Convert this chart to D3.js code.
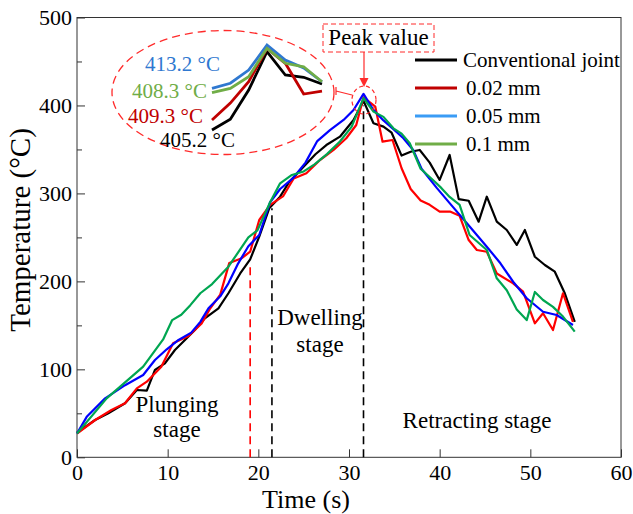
<!DOCTYPE html>
<html lang="en">
<head>
<meta charset="UTF-8">
<title>Temperature history</title>
<script src="https://d3js.org/d3.v7.min.js"></script>
<style>
  body { margin: 0; background: #fff; }
  svg text { font-family: "Liberation Serif", "Times New Roman", serif; fill: #000; }
</style>
</head>
<body>
<svg id="chart" width="633" height="514"></svg>
<script>
// ---- data ----
const convTime = [0, 2, 3.45, 5.3, 6.6, 7.7, 8.6, 9.7, 10.8, 12.1, 13, 14.1, 15.6, 16.7, 18, 19.1, 20.1, 21.2, 22.4, 23.4, 24.6, 26.3, 27.5, 29, 30.5, 31.6, 32.7, 33.8, 34.7, 35.8, 36.8, 37.8, 38.9, 40, 41.1, 42.1, 43.2, 44.3, 45.2, 46.3, 47.4, 48.5, 49.4, 50.5, 51.6, 52.7, 53.8, 54.9];
const convTemp = [28, 42.4, 50, 61.4, 76.5, 75.7, 99.3, 106.8, 122, 135.3, 144.7, 158, 169.4, 186.5, 209, 225, 250.8, 283, 296.3, 313, 326, 344.5, 355, 364.5, 383.5, 405.2, 379.7, 375.9, 369, 343, 347.4, 349.4, 335, 315.3, 343.7, 293.5, 291.7, 267.9, 296.3, 267.9, 258.4, 241.4, 258.4, 228, 218.6, 211, 186.5, 154];

const mm002Time = [0, 2, 3.8, 5.3, 6.6, 7.7, 9.3, 10.6, 12.3, 13.75, 14.7, 15.8, 16.8, 18.1, 19.1, 20.1, 21.3, 22.75, 23.9, 25.3, 26.8, 28.3, 29.7, 30.8, 31.6, 32.9, 33.7, 34.8, 35.8, 36.8, 37.9, 38.9, 40, 41.2, 42.2, 43.2, 44.1, 45.2, 46.3, 48.1, 49.2, 50.5, 51.4, 52.5, 53.6, 54.7];
const mm002Temp = [27, 42.4, 53.8, 61.4, 78.4, 86, 103, 129.6, 138, 152.3, 169.4, 185, 221, 226, 233.7, 269.8, 287, 297, 317, 323, 338, 349.4, 362.7, 377.8, 409.3, 398.6, 358.8, 360.7, 328.6, 305, 292, 287, 279.2, 279.2, 274.5, 247, 235.7, 233.7, 209, 197.8, 188.3, 152.3, 163.7, 144.7, 186.5, 154];

const mm005Time = [0, 1.07, 3.1, 5.3, 7.3, 8.6, 9.9, 11.2, 12.6, 13.6, 14.5, 15.8, 16.7, 17.7, 18.9, 20.1, 21.3, 22.4, 23.8, 25.2, 26.5, 27.9, 29.4, 30.5, 31.6, 32.7, 33.8, 34.9, 36, 37.1, 38, 39.7, 41.1, 43, 45.2, 46.7, 48.1, 49.6, 51.4, 52.9, 54.7];
const mm005Temp = [27, 46, 67, 82, 93.6, 110.6, 122.8, 133.4, 141.7, 154, 169.4, 183, 197.8, 219, 240, 252.7, 290, 305, 317, 335, 359.5, 372, 383.5, 394.8, 413.2, 394.8, 383, 373, 362.7, 349, 328, 306, 289, 266, 239.4, 220.6, 199.6, 180.8, 165.5, 161.8, 150.4];

const mm01Time = [0, 3.27, 7.3, 9.5, 10.5, 11.5, 12.5, 13.6, 14.9, 16.7, 18.9, 19.9, 21.3, 22.4, 23.7, 25, 26.2, 27.6, 29, 30.3, 31.6, 32.7, 33.8, 34.9, 35.8, 36.7, 37.9, 39.5, 40.2, 41.1, 42.2, 43.3, 45.2, 46.3, 47.4, 48.5, 49.6, 50.5, 51.4, 52.5, 53.6, 54.9];
const mm01Temp = [27, 67, 103, 134, 156, 162, 173, 186.5, 197, 216.7, 250, 258, 290, 311.5, 321, 325, 333, 345, 359, 376, 408.3, 393, 387, 374, 368, 357, 328, 313, 306, 296, 287, 252.7, 235.7, 203.5, 190, 168, 156, 188, 178.8, 171, 160, 142.8];

const seriesNames = ["Conventional joint", "0.02 mm", "0.05 mm", "0.1 mm"];
const lineColors = ["#000000", "#ff0000", "#0000ff", "#00a651"];
const keyColors = ["#000000", "#c00000", "#3a9cf5", "#70ad47"];
const insetColors = ["#000000", "#c00000", "#2f78d0", "#70ad47"];

// zoomed view around the peak (7 samples)
const insetConv = [356.5, 363.7, 383.2, 408.7, 393.2, 391.7, 387.2];
const insetMm002 = [363.2, 374.5, 388.7, 411, 401, 380.5, 382.5];
const insetMm005 = [384.3, 387.7, 396.5, 413.2, 403.2, 397.9, 388.7];
const insetMm01 = [381.4, 384.3, 392.1, 411, 401, 398.7, 388.7];
const peakLabels = ["405.2 °C", "409.3 °C", "413.2 °C", "408.3 °C"];

// stage boundaries: time and height of dashed marker
const stageTimes = [19.1, 21.5, 31.6];
const stageTops = [221, 283, 400];

const xTicks = [0, 10, 20, 30, 40, 50, 60];
const yTicks = [0, 100, 200, 300, 400, 500];
const yMinor = [50, 150, 250, 350, 450];

// ---- chart ----
const svg = d3.select("#chart");
const plotLeft = 77, plotRight = 621, plotTop = 17.5, plotBottom = 457.3;

const x = d3.scaleLinear().domain([0, 60]).range([plotLeft, plotRight]);
const y = d3.scaleLinear().domain([0, 500]).range([plotBottom, plotTop]);

// axes with inward ticks
svg.append("g")
    .attr("transform", `translate(0,${plotBottom})`)
    .call(d3.axisBottom(x).tickValues(xTicks).tickSize(-8).tickSizeOuter(0).tickPadding(7));
svg.append("g")
    .attr("transform", `translate(${plotLeft},0)`)
    .call(d3.axisLeft(y).tickValues(yTicks).tickSize(-8).tickSizeOuter(0).tickPadding(5));
svg.append("g")
    .attr("transform", `translate(${plotLeft},0)`)
    .call(d3.axisLeft(y).tickValues(yMinor).tickSize(-5).tickSizeOuter(0).tickFormat(""));

svg.selectAll(".domain").remove();
svg.selectAll(".tick line").attr("stroke", "#333");
svg.selectAll(".tick text")
    .style("font-family", '"Liberation Serif", "Times New Roman", serif')
    .style("font-size", "22px")
    .attr("fill", "#000");

svg.append("rect")
    .attr("x", plotLeft).attr("y", plotTop)
    .attr("width", plotRight - plotLeft).attr("height", plotBottom - plotTop)
    .attr("fill", "none").attr("stroke", "#333").attr("stroke-width", 1);

// axis titles
svg.append("text")
    .attr("x", 306).attr("y", 507.5)
    .attr("text-anchor", "middle")
    .style("font-size", "26px")
    .text("Time (s)");
svg.append("text")
    .attr("transform", "translate(30,230) rotate(-90)")
    .attr("text-anchor", "middle")
    .style("font-size", "29px")
    .text("Temperature (°C)");

// stage markers
svg.selectAll(".stage")
    .data(stageTimes)
    .enter()
    .append("line")
    .attr("class", "stage")
    .attr("x1", d => x(d)).attr("x2", d => x(d))
    .attr("y1", y(0)).attr("y2", (d, i) => y(stageTops[i]))
    .attr("stroke", (d, i) => i === 0 ? "#ff0000" : "#000")
    .attr("stroke-width", 1.6)
    .attr("stroke-dasharray", "8,5");

// curves
const allSeries = [
    [convTime, convTemp],
    [mm002Time, mm002Temp],
    [mm005Time, mm005Temp],
    [mm01Time, mm01Temp]
];
const line = d3.line().x(d => x(d[0])).y(d => y(d[1]));
allSeries.forEach(([ts, vs], i) => {
    svg.append("path")
        .datum(ts.map((t, k) => [t, vs[k]]))
        .attr("fill", "none")
        .attr("stroke", lineColors[i])
        .attr("stroke-width", 2.2)
        .attr("stroke-linejoin", "round")
        .attr("d", line);
});

// stage labels
const note = (txt, px, py, size) => svg.append("text")
    .attr("x", px).attr("y", py).attr("text-anchor", "middle")
    .style("font-size", size + "px").text(txt);
note("Plunging", 177, 412, 23);
note("stage", 177, 437, 23);
note("Dwelling", 320, 325, 23);
note("stage", 320, 352, 23);
note("Retracting stage", 477, 428, 23);

// legend
const legend = svg.append("g");
seriesNames.forEach((name, i) => {
    const ly = 60 + i * 28;
    legend.append("line")
        .attr("x1", 415).attr("x2", 457).attr("y1", ly).attr("y2", ly)
        .attr("stroke", keyColors[i]).attr("stroke-width", 3);
    legend.append("text")
        .attr("x", i === 0 ? 463 : 466).attr("y", ly + 7)
        .style("font-size", "21px")
        .text(name);
});

// peak call-out
const red = "#ff2a2a";
svg.append("rect")
    .attr("x", 323).attr("y", 24).attr("width", 111).attr("height", 28)
    .attr("fill", "none").attr("stroke", red).attr("stroke-width", 1)
    .attr("stroke-dasharray", "5,3");
svg.append("text")
    .attr("x", 378.5).attr("y", 45).attr("text-anchor", "middle")
    .style("font-size", "23px").text("Peak value");
svg.append("line")
    .attr("x1", 364).attr("x2", 364).attr("y1", 52).attr("y2", 79)
    .attr("stroke", red).attr("stroke-width", 1.2);
svg.append("path")
    .attr("d", "M359.5,78 L368.5,78 L364,87 Z")
    .attr("fill", red);
svg.append("ellipse")
    .attr("cx", 364).attr("cy", 100).attr("rx", 12).attr("ry", 14)
    .attr("fill", "none").attr("stroke", red).attr("stroke-width", 1.2)
    .attr("stroke-dasharray", "4,3");
svg.append("path")
    .attr("d", "M336,87 L336,95 M336,91 L352,95")
    .attr("fill", "none").attr("stroke", red).attr("stroke-width", 1.2);
svg.append("ellipse")
    .attr("cx", 223).attr("cy", 92.5).attr("rx", 111).attr("ry", 62)
    .attr("fill", "none").attr("stroke", red).attr("stroke-width", 1.3)
    .attr("stroke-dasharray", "8,5");

// inset: zoom on the peak
const ix = d3.scaleLinear().domain([0, 6]).range([212, 322]);
const iy = d3.scaleLinear().domain([413.2, 353.2]).range([45, 135]);
const insetLine = d3.line().x((d, k) => ix(k)).y(d => iy(d));
[insetConv, insetMm002, insetMm005, insetMm01].forEach((vals, i) => {
    svg.append("path")
        .datum(vals)
        .attr("fill", "none")
        .attr("stroke", insetColors[i])
        .attr("stroke-width", 2.8)
        .attr("d", insetLine);
});
const labelPos = [[160, 147], [128, 123], [145, 71], [132, 98]];
peakLabels.forEach((lab, i) => {
    svg.append("text")
        .attr("x", labelPos[i][0]).attr("y", labelPos[i][1])
        .style("font-size", "21px")
        .style("fill", insetColors[i])
        .text(lab);
});
</script>
</body>
</html>
